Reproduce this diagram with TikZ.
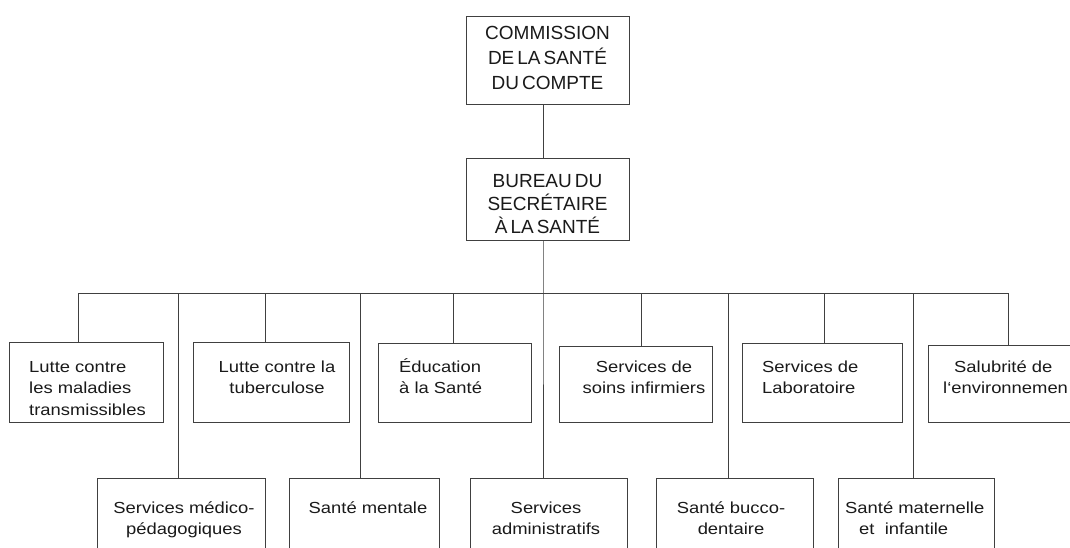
\documentclass[tikz,border=0pt]{standalone}
\usepackage{fontspec}
\setmainfont{Liberation Sans}
\newfontfamily\lowfam{Liberation Sans}[FakeStretch=1.15]
\definecolor{linec}{HTML}{404040}
\definecolor{textc}{HTML}{1A1A1A}
\newcommand\headfontA{\fontsize{19}{25}\selectfont\spaceskip 3pt\relax}
\newcommand\headfontB{\fontsize{19}{23}\selectfont\spaceskip 3pt\relax}
\newcommand\lowfontA{\lowfam\fontsize{16}{21.5}\selectfont}
\begin{document}
\begin{tikzpicture}[x=1pt,y=-1pt,
  box/.style={draw=linec, line width=0.9pt, inner sep=0pt, anchor=north west},
  conn/.style={draw=linec, line width=0.9pt},
  low/.style={inner sep=0pt, text=textc, font=\lowfontA},
  head/.style={inner sep=0pt, text=textc, align=center, anchor=north, font=\headfontA}]
\useasboundingbox (0,0) rectangle (1070,548);
\clip (0,0) rectangle (1070,548);
\fill[white] (0,0) rectangle (1070,548);

% head boxes
\node[box, minimum width=163, minimum height=88] (comm) at (466,16) {};
\node[head] (commt) at (547.5,21) {\rule{0pt}{18pt}COMMISSION\\DE LA SANTÉ\\DU COMPTE};
\node[box, minimum width=163, minimum height=82] (bur) at (466,158) {};
\node[head, font=\headfontB] (burt) at (547.5,169) {\rule{0pt}{18pt}BUREAU DU\\SECRÉTAIRE\\À LA SANTÉ};

% top row boxes
\node[box, minimum width=154, minimum height=80] (t1) at (9,342) {};
\node[box, minimum width=156, minimum height=80] (t2) at (193,342) {};
\node[box, minimum width=153, minimum height=79] (t3) at (378,343) {};
\node[box, minimum width=153, minimum height=76] (t4) at (559,346) {};
\node[box, minimum width=160, minimum height=79] (t5) at (742,343) {};
\node[box, minimum width=170, minimum height=77] (t6) at (928,345) {};

\node[low, align=left, anchor=north west] (t1t) at (29,357) {\rule{0pt}{15pt}Lutte contre\\les maladies\\transmissibles};
\node[low, align=center, anchor=north] (t2t) at (277,357) {\rule{0pt}{15pt}Lutte contre la\\tuberculose};
\node[low, align=left, anchor=north west] (t3t) at (399,357) {\rule{0pt}{15pt}Éducation\\à la Santé};
\node[low, align=center, anchor=north] (t4t) at (644,357) {\rule{0pt}{15pt}Services de\\soins infirmiers};
\node[low, align=left, anchor=north west] (t5t) at (762,357) {\rule{0pt}{15pt}Services de\\Laboratoire};
\node[low, align=left, anchor=north west] (t6t) at (943,357) {\rule{0pt}{15pt}\hspace*{11pt}Salubrité de\\l‘environnemen};

% bottom row boxes
\node[box, minimum width=168, minimum height=100] (u1) at (97,478) {};
\node[box, minimum width=150, minimum height=100] (u2) at (289,478) {};
\node[box, minimum width=157, minimum height=100] (u3) at (470,478) {};
\node[box, minimum width=157, minimum height=100] (u4) at (656,478) {};
\node[box, minimum width=156, minimum height=100] (u5) at (838,478) {};

\node[low, align=center, anchor=north] (u1t) at (184,498) {\rule{0pt}{15pt}Services médico-\\pédagogiques};
\node[low, align=center, anchor=north] (u2t) at (368,498) {\rule{0pt}{15pt}Santé mentale};
\node[low, align=center, anchor=north] (u3t) at (546,498) {\rule{0pt}{15pt}Services\\administratifs};
\node[low, align=center, anchor=north] (u4t) at (731,498) {\rule{0pt}{15pt}Santé bucco-\\dentaire};
\node[low, align=left, anchor=north west] (u5t) at (845,498) {\rule{0pt}{15pt}Santé maternelle\\\hspace*{14pt}et\ \ infantile};

% bus junctions
\coordinate (j0) at (543,293);
\coordinate (d1) at (78,293);
\coordinate (d2) at (265,293);
\coordinate (d3) at (453,293);
\coordinate (d4) at (641,293);
\coordinate (d5) at (824,293);
\coordinate (d6) at (1008,293);
\coordinate (l1) at (178,293);
\coordinate (l2) at (360,293);
\coordinate (l3) at (728,293);
\coordinate (l4) at (913,293);

% connectors
\draw[conn] (comm.south -| j0) -- (bur.north -| j0);
\draw[conn] (bur.south -| j0) -- (j0) -- (u3.north -| j0);
\draw[conn] (d1) -- (d6);
\draw[conn] (d1) -- (t1.north -| d1);
\draw[conn] (d2) -- (t2.north -| d2);
\draw[conn] (d3) -- (t3.north -| d3);
\draw[conn] (d4) -- (t4.north -| d4);
\draw[conn] (d5) -- (t5.north -| d5);
\draw[conn] (d6) -- (t6.north -| d6);
\draw[conn] (l1) -- (u1.north -| l1);
\draw[conn] (l2) -- (u2.north -| l2);
\draw[conn] (l3) -- (u4.north -| l3);
\draw[conn] (l4) -- (u5.north -| l4);
\end{tikzpicture}
\end{document}
